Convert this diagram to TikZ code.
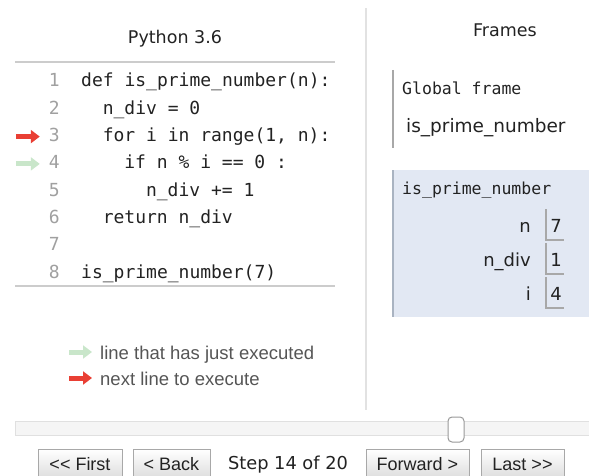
\documentclass[tikz,border=0pt]{standalone}
\usepackage{fontspec}
\setmainfont{Liberation Sans}
\newfontfamily\uifont{DejaVu Sans}
\newfontfamily\codefont{DejaVu Sans Mono}
\usepackage{xcolor}
\definecolor{ink}{HTML}{222222}
\definecolor{muted}{HTML}{A0A0A0}
\definecolor{rule}{HTML}{CCCCCC}
\definecolor{divide}{HTML}{E2E2E2}
\definecolor{nextred}{HTML}{E93F34}
\definecolor{doneg}{HTML}{C9E6CA}
\definecolor{framebg}{HTML}{E2E8F3}
\definecolor{frameedge}{HTML}{A9B3C1}
\definecolor{cell}{HTML}{A8A8A8}
\definecolor{btnedge}{HTML}{A8A8A8}
\definecolor{legtext}{HTML}{555555}
\usetikzlibrary{arrows.meta}
\tikzset{
  code/.style={font=\codefont\fontsize{18}{20}\selectfont,text=ink,inner sep=0pt,anchor=base west},
  lnum/.style={code,text=muted,anchor=base east},
  fcode/.style={code,font=\codefont\fontsize{16.5}{18}\selectfont},
  ui/.style={font=\uifont\fontsize{17.5}{20}\selectfont,text=ink,inner sep=0pt,anchor=base},
  vname/.style={ui,font=\uifont\fontsize{18}{20}\selectfont,anchor=base east},
  vval/.style={ui,font=\uifont\fontsize{18}{20}\selectfont},
  leg/.style={font=\fontsize{18.5}{20}\selectfont,text=legtext,inner sep=0pt,anchor=base west},
  marker/.style={line width=5pt,-{Triangle[length=9pt,width=13pt]}},
  btn/.style={draw=btnedge,top color=white,bottom color=black!14,line width=0.8pt,
    font=\fontsize{18}{20}\selectfont,text=ink,minimum height=30pt,inner sep=0pt,anchor=north},
  hrule/.style={draw=rule,line width=1.5pt},
}
\begin{document}
\begin{tikzpicture}[x=1pt,y=-1pt]
  \useasboundingbox (0,0) rectangle (589,476);
  % code pane
  \node[ui] (lang) at (175,44) {Python 3.6};
  \draw[hrule] (15,62) -- (335,62);
  \draw[hrule] (15,286) -- (335,286);
  \foreach \k/\ind/\txt in {1/0/{def is\_prime\_number(n):},
                            2/1/{n\_div = 0},
                            3/1/{for i in range(1, n):},
                            4/2/{if n \% i == 0 :},
                            5/3/{n\_div += 1},
                            6/1/{return n\_div},
                            7/0/{},
                            8/0/{is\_prime\_number(7)}}{
    \node[lnum] (num\k) at (60,{87+(\k-1)*27.3}) {\k};
    \node[code] (line\k) at ({81+\ind*21.6},{87+(\k-1)*27.3}) {\txt};
  }
  \draw[marker,nextred] ([xshift=-33pt,yshift=5pt]num3.base west) -- ([xshift=-9pt,yshift=5pt]num3.base west);
  \draw[marker,doneg] ([xshift=-33pt,yshift=5pt]num4.base west) -- ([xshift=-9pt,yshift=5pt]num4.base west);
  % legend
  \node[leg] (legdone) at (100,359) {line that has just executed};
  \node[leg] (legnext) at (100,385) {next line to execute};
  \draw[marker,doneg] ([xshift=-31pt,yshift=7pt]legdone.base west) -- ([xshift=-8pt,yshift=7pt]legdone.base west);
  \draw[marker,nextred] ([xshift=-31pt,yshift=7pt]legnext.base west) -- ([xshift=-8pt,yshift=7pt]legnext.base west);
  \draw[divide,line width=1.2pt] (366,8) -- (366,410);
  % frames pane
  \node[ui] (frames) at (505,37) {Frames};
  \draw[cell,line width=1.5pt] (393,70) -- (393,148);
  \node[fcode] (glob) at (402,95) {Global frame};
  \node[ui,font=\uifont\fontsize{18.5}{20}\selectfont,anchor=base west] (gfun) at (406,133) {is\_prime\_number};
  \fill[framebg] (393,170) rectangle (589,317);
  \draw[frameedge,line width=1.5pt] (393,170) -- (393,317);
  \node[fcode] (fhead) at (402,194) {is\_prime\_number};
  \foreach \v/\val/\y in {n/7/232.5, n\_div/1/266.5, i/4/300.5}{
    \node[vname] at (531,\y) {\v};
    \node[vval] at (556,\y) {\val};
    \draw[cell,line width=1.2pt] (546,\y-23.5) -- (546,\y+7.5) -- (564,\y+7.5);
  }
  % slider
  \draw[draw=black!12,fill=black!4,line width=0.8pt] (15,421) rectangle (589,435);
  \draw[draw=black!40,fill=white,line width=1pt,rounded corners=4pt] (448,417) rectangle (464,442);
  % buttons
  \foreach \b/\x/\w/\t in {first/80/84/{<\kern0pt< First}, back/171.5/77/{<\kern0pt\ Back},
                          fwd/417.5/103/{Forward >}, last/522.5/83/{Last >\kern0pt>}}{
    \node[btn,minimum width=\w pt] (\b) at (\x,449) {\t};
  }
  \node[ui,font=\uifont\fontsize{17.8}{20}\selectfont] (step) at (288,469) {Step 14 of 20};
\end{tikzpicture}
\end{document}
